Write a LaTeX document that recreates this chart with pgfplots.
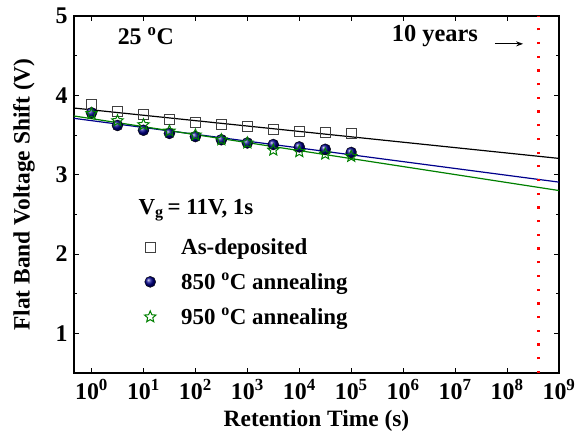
\documentclass[border=0pt]{standalone}
\usepackage{fontspec}
\setmainfont{Liberation Serif}
\usepackage{pgfplots}
\pgfplotsset{compat=1.18}
\usetikzlibrary{arrows.meta}

% open five-pointed star, like Origin's
\pgfdeclareplotmark{ostar}{%
  \pgfpathmoveto{\pgfpointpolar{90}{\pgfplotmarksize}}%
  \pgfpathlineto{\pgfpointpolar{126}{0.45\pgfplotmarksize}}%
  \pgfpathlineto{\pgfpointpolar{162}{\pgfplotmarksize}}%
  \pgfpathlineto{\pgfpointpolar{198}{0.45\pgfplotmarksize}}%
  \pgfpathlineto{\pgfpointpolar{234}{\pgfplotmarksize}}%
  \pgfpathlineto{\pgfpointpolar{270}{0.45\pgfplotmarksize}}%
  \pgfpathlineto{\pgfpointpolar{306}{\pgfplotmarksize}}%
  \pgfpathlineto{\pgfpointpolar{342}{0.45\pgfplotmarksize}}%
  \pgfpathlineto{\pgfpointpolar{18}{\pgfplotmarksize}}%
  \pgfpathlineto{\pgfpointpolar{54}{0.45\pgfplotmarksize}}%
  \pgfpathclose
  \pgfusepathqstroke
}

\definecolor{fitblue}{RGB}{0,0,140}
\definecolor{fitgreen}{RGB}{0,128,0}
\newcommand{\tl}[1]{\textbf{10}\textsuperscript{\fontsize{17}{17}\selectfont\textbf{#1}}}

\begin{document}
\begin{tikzpicture}
\begin{axis}[
  at={(0,0)}, anchor=south west,
  scale only axis, width=485bp, height=357bp,
  xmode=log, log basis x=10,
  xmin=0.46, xmax=1e9,
  ymin=0.5, ymax=5,
  xtick={1,10,100,1e3,1e4,1e5,1e6,1e7,1e8,1e9},
  xticklabels={\tl0,\tl1,\tl2,\tl3,\tl4,\tl5,\tl6,\tl7,\tl8,\tl9},
  ytick={1,2,3,4,5},
  yticklabels={\textbf{1},\textbf{2},\textbf{3},\textbf{4},\textbf{5}},
  minor y tick num=1,
  tick align=inside,
  major tick length=5bp, minor tick length=3bp,
  every tick/.style={black, line width=1bp},
  axis line style={line width=2bp},
  tick label style={font=\fontsize{24}{26}\selectfont\bfseries},
  xticklabel style={yshift=-3bp},
  yticklabel style={xshift=-3bp},
  label style={font=\fontsize{23.5}{26}\selectfont\bfseries},
  xlabel={Retention Time (s)},
  ylabel={Flat Band Voltage Shift (V)},
  xlabel style={at={(axis description cs:0.5,-0.135)}, anchor=center},
  ylabel style={at={(axis description cs:-0.103,0.5)}, anchor=center},
  legend style={draw=none, fill=none, at={(0.145,0.383)}, anchor=north west,
    font=\fontsize{23}{26}\selectfont\bfseries, row sep=13bp,
    inner sep=0pt},
  legend cell align=left,
  legend image code/.code={%
    \path[draw=none] (0bp,0bp) -- (34bp,0bp);
    \draw[#1] plot coordinates {(5bp,0bp)};},
]
% fitted lines (log-linear)
\addplot[black, line width=1.2bp, forget plot] coordinates {(0.46,3.84) (1e9,3.205)};
\addplot[fitblue, line width=1.2bp, forget plot] coordinates {(0.46,3.71) (1e9,2.906)};
\addplot[fitgreen, line width=1.2bp, forget plot] coordinates {(0.46,3.74) (1e9,2.80)};
% 10 years marker
\addplot[red, line width=2.4bp, dash pattern=on 2.2bp off 11.5bp, forget plot]
  coordinates {(4e8,0.5) (4e8,5)};

\addplot[only marks, mark=square, mark size=5bp, black!75, line width=0.9bp] coordinates {
(1,3.88) (3.16,3.80) (10,3.76) (31.6,3.70) (100,3.66) (316,3.63)
(1e3,3.61) (3.16e3,3.57) (1e4,3.55) (3.16e4,3.53) (1e5,3.52)};
\addlegendentry{As-deposited}

\addplot[only marks, mark=ball, mark size=5.5bp, ball color=fitblue] coordinates {
(1,3.78) (3.16,3.62) (10,3.56) (31.6,3.52) (100,3.48) (316,3.44)
(1e3,3.40) (3.16e3,3.38) (1e4,3.35) (3.16e4,3.32) (1e5,3.28)};
\addlegendentry{850 \textsuperscript{o}C annealing}

\addplot[only marks, mark=ostar, mark size=6bp, fitgreen, line width=1bp] coordinates {
(1,3.77) (3.16,3.68) (10,3.63) (31.6,3.55) (100,3.50) (316,3.44)
(1e3,3.40) (3.16e3,3.31) (1e4,3.29) (3.16e4,3.26) (1e5,3.23)};
\addlegendentry{950 \textsuperscript{o}C annealing}

\node[font=\fontsize{24}{26}\selectfont\bfseries] at (rel axis cs:0.148,0.944) {25 \textsuperscript{o}C};
\node[font=\fontsize{24.5}{26}\selectfont\bfseries] at (rel axis cs:0.744,0.944) {10 years};
\draw[-{Stealth[length=7bp,width=5bp]}, line width=1.2bp] (rel axis cs:0.868,0.922) -- (rel axis cs:0.926,0.922);
\node[font=\fontsize{23}{26}\selectfont\bfseries, anchor=base west] at (rel axis cs:0.126,0.445) {V\textsubscript{g}\,= 11V, 1s};
\end{axis}
\pgfresetboundingbox
\path[use as bounding box] (-74bp,-74bp) rectangle (503bp,373bp);
\end{tikzpicture}
\end{document}
